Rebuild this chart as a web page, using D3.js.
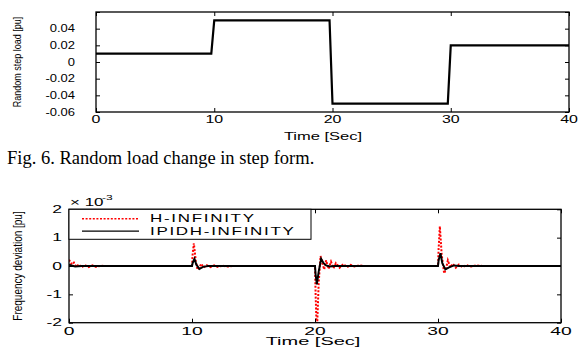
<!DOCTYPE html>
<html>
<head>
<meta charset="utf-8">
<script src="https://cdn.jsdelivr.net/npm/d3@7"></script>
<style>
  html, body { margin: 0; padding: 0; background: #fff; }
  svg { display: block; }
</style>
</head>
<body>
<div id="chart"></div>
<script>
// ---- top panel: random step load ----
const loadTime = [0, 9.75, 10, 19.75, 20, 29.75, 30, 40];
const loadValue = [0.01, 0.01, 0.05, 0.05, -0.05, -0.05, 0.02, 0.02];
const topXTicks = [0, 10, 20, 30, 40];
const topYTicks = [-0.06, -0.04, -0.02, 0, 0.02, 0.04, 0.06];
const topYTickLabels = ["-0.06", "-0.04", "-0.02", "0", "0.02", "0.04"];

// ---- bottom panel: frequency deviation (x 10^-3 pu) ----
const hinfTime = [0, 0.1, 0.25, 0.4, 0.6, 0.8, 1.0, 1.3, 1.6, 1.9, 2.2, 2.6, 3.0,
  10, 10.05, 10.15, 10.3, 10.45, 10.6, 10.75, 10.95, 11.2, 11.5, 11.8, 12.1, 12.5, 12.9, 13.3,
  20, 20.05, 20.15, 20.3, 20.45, 20.6, 20.75, 20.9, 21.1, 21.3, 21.5, 21.7, 22.0, 22.3, 22.6, 22.9, 23.2, 23.6, 24.0,
  30, 30.05, 30.15, 30.3, 30.5, 30.65, 30.8, 31.0, 31.2, 31.45, 31.7, 32.0, 32.3, 32.7, 33.1, 33.6, 40];
const hinfValue = [0.22, 0.15, 0.05, 0.12, -0.03, 0.06, -0.05, 0.03, -0.04, 0.02, -0.03, 0.01, 0,
  0, 0.4, 0.8, 0.2, -0.13, -0.05, 0.08, -0.05, 0.03, -0.04, 0.02, -0.03, 0.01, -0.02, 0,
  0, -1.0, -2.4, -0.6, 0.35, 0.1, -0.12, 0.2, -0.1, 0.15, -0.08, 0.1, -0.06, 0.07, -0.04, 0.04, -0.02, 0.02, 0,
  0, 0.6, 1.4, 0.4, -0.26, -0.1, 0.2, -0.05, 0.08, -0.06, 0.05, -0.04, 0.03, -0.02, 0.02, 0, 0];

const ipidTime = [0, 0.2, 0.5, 1.0,
  10, 10.05, 10.2, 10.35, 10.6, 10.9, 11.3,
  20, 20.05, 20.15, 20.3, 20.5, 20.7, 20.9, 21.2, 21.6,
  30, 30.05, 30.2, 30.35, 30.6, 30.9, 31.3, 31.7, 40];
const ipidValue = [0.05, 0.02, -0.02, 0,
  0, 0.1, 0.25, 0.05, -0.1, -0.03, 0,
  0, -0.3, -0.65, -0.2, 0.25, 0.1, 0.02, -0.02, 0,
  0, 0.2, 0.45, 0.1, -0.12, -0.05, 0.02, 0, 0];

const botXTicks = [0, 10, 20, 30, 40];
const botYTicks = [-2, -1, 0, 1, 2];
const legendNames = ["H-INFINITY", "IPIDH-INFINITY"];

const width = 581, height = 347;
const fontSans = "'Liberation Sans', Arial, sans-serif";

const svg = d3.select("#chart").append("svg")
  .attr("width", width).attr("height", height);

// text with the horizontal stretch seen in the scanned figure
function stretchText(parent, x, y, str, size, sx, anchor, extra) {
  const t = parent.append("text")
    .attr("transform", "translate(" + x + "," + y + ") scale(" + sx + ",1)" + (extra || ""))
    .attr("text-anchor", anchor || "start")
    .style("font-family", fontSans)
    .style("font-size", size + "px")
    .style("fill", "#000")
    .text(str);
  return t;
}

function frame(g, x, y, ticksX, ticksY) {
  const [x0, x1] = x.range();
  const [y0, y1] = y.range();
  const tick = 4;
  const axB = d3.axisBottom(x).tickValues(ticksX).tickSizeInner(-tick).tickSizeOuter(0).tickFormat("");
  const axT = d3.axisTop(x).tickValues(ticksX).tickSizeInner(-tick).tickSizeOuter(0).tickFormat("");
  const axL = d3.axisLeft(y).tickValues(ticksY).tickSizeInner(-tick).tickSizeOuter(0).tickFormat("");
  const axR = d3.axisRight(y).tickValues(ticksY).tickSizeInner(-tick).tickSizeOuter(0).tickFormat("");
  g.append("g").attr("transform", "translate(0," + y0 + ")").call(axB);
  g.append("g").attr("transform", "translate(0," + y1 + ")").call(axT);
  g.append("g").attr("transform", "translate(" + x0 + ",0)").call(axL);
  g.append("g").attr("transform", "translate(" + x1 + ",0)").call(axR);
  g.selectAll(".domain").remove();
  g.selectAll(".tick line").attr("stroke", "#000").attr("stroke-width", 1);
  g.append("rect")
    .attr("x", x0).attr("y", y1)
    .attr("width", x1 - x0).attr("height", y0 - y1)
    .attr("fill", "none").attr("stroke", "#000").attr("stroke-width", 1.3);
}

// ================= TOP PANEL =================
const xTop = d3.scaleLinear().domain([0, 40]).range([96, 569]);
const yTop = d3.scaleLinear().domain([-0.06, 0.06]).range([112, 12]);
const gTop = svg.append("g");

gTop.append("path")
  .datum(loadTime.map((t, i) => [t, loadValue[i]]))
  .attr("fill", "none").attr("stroke", "#000").attr("stroke-width", 2.2)
  .attr("d", d3.line().x(d => xTop(d[0])).y(d => yTop(d[1])));

frame(gTop, xTop, yTop, topXTicks, topYTicks);

topYTickLabels.forEach((lab, i) => {
  stretchText(gTop, 75, yTop(topYTicks[i]) + 3.6, lab, 10, 1.3, "end");
});
topXTicks.forEach(v => {
  stretchText(gTop, xTop(v), 122.5, String(v), 11, 1.45, "middle");
});
stretchText(gTop, 323, 140, "Time [Sec]", 11, 1.5, "middle");
stretchText(gTop, 21, (yTop.range()[0] + yTop.range()[1]) / 2, "Random step load [pu]", 9, 1.3, "middle", " rotate(-90)");

// caption
svg.append("text")
  .attr("x", 7).attr("y", 163.5)
  .style("font-family", "'Liberation Serif', 'Times New Roman', serif")
  .style("font-size", "18.5px")
  .text("Fig. 6. Random load change in step form.");

// ================= BOTTOM PANEL =================
const xBot = d3.scaleLinear().domain([0, 40]).range([69, 561]);
const yBot = d3.scaleLinear().domain([-2, 2]).range([322.7, 209.3]);
const gBot = svg.append("g");

gBot.append("clipPath").attr("id", "clipBot")
  .append("rect")
  .attr("x", xBot(0)).attr("y", yBot(2))
  .attr("width", xBot(40) - xBot(0)).attr("height", yBot(-2) - yBot(2));

const lineBot = d3.line().x(d => xBot(d[0])).y(d => yBot(d[1]));
const plotArea = gBot.append("g").attr("clip-path", "url(#clipBot)");

plotArea.append("path")
  .datum(hinfTime.map((t, i) => [t, hinfValue[i]]))
  .attr("fill", "none").attr("stroke", "#ff0000").attr("stroke-width", 2)
  .attr("stroke-dasharray", "2,1.6")
  .attr("d", lineBot);

plotArea.append("path")
  .datum(ipidTime.map((t, i) => [t, ipidValue[i]]))
  .attr("fill", "none").attr("stroke", "#000").attr("stroke-width", 2)
  .attr("d", lineBot);

frame(gBot, xBot, yBot, botXTicks, botYTicks);

botYTicks.forEach(v => {
  stretchText(gBot, 62, yBot(v) + 3.6, String(v), 10, 1.75, "end");
});
botXTicks.forEach(v => {
  stretchText(gBot, xBot(v), 335, String(v), 11, 1.75, "middle");
});
// pulled up just enough to stay inside the window
stretchText(gBot, 313, 344.5, "Time [Sec]", 10, 2.0, "middle");
stretchText(gBot, 22, (yBot.range()[0] + yBot.range()[1]) / 2, "Frequency deviation [pu]", 10, 1.3, "middle", " rotate(-90)");

// exponent marker
stretchText(gBot, 70, 206, "\u00d7 10", 10, 1.7, "start");
stretchText(gBot, 102, 199.5, "-3", 8, 1.5, "start");

// legend
const legX = xBot(0), legY = yBot(2);
gBot.append("rect")
  .attr("x", legX).attr("y", legY)
  .attr("width", 242).attr("height", 30)
  .attr("fill", "#fff").attr("stroke", "#000").attr("stroke-width", 1);
const legStyles = [
  { stroke: "#ff0000", dash: "2,1.6", width: 1.6 },
  { stroke: "#000", dash: null, width: 1.2 }
];
legendNames.forEach((name, i) => {
  const ly = legY + 9.5 + i * 12.4;
  gBot.append("line")
    .attr("x1", legX + 13).attr("x2", legX + 70)
    .attr("y1", ly).attr("y2", ly)
    .attr("stroke", legStyles[i].stroke)
    .attr("stroke-width", legStyles[i].width)
    .attr("stroke-dasharray", legStyles[i].dash);
  stretchText(gBot, legX + 81, ly + 3.6, name, 10, 1.7, "start")
    .style("letter-spacing", "1px");
});
</script>
</body>
</html>
